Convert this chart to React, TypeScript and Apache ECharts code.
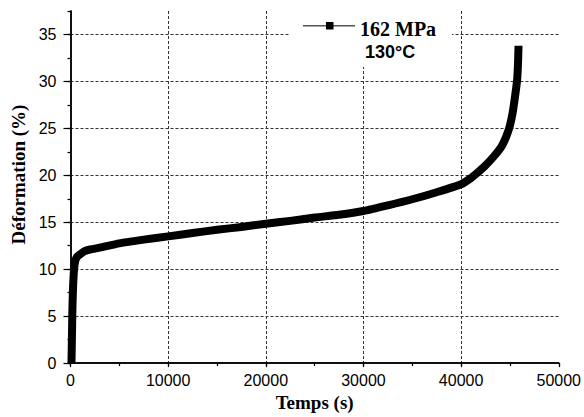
import React, { useEffect, useRef } from "react";
import * as echarts from "echarts";

// Creep test: time (s) vs strain (%)
const timeS = [
  100, 150, 200, 260, 330, 420, 550, 750, 1000, 1400, 2000, 3000, 5000, 7500,
  10000, 12500, 15000, 17500, 20000, 22500, 25000, 27500, 30000, 32500, 35000,
  37500, 40000, 41000, 41700, 42400, 43300, 44100, 44650, 45000, 45300, 45550,
  45740, 45830, 45880,
];
const strain = [
  0, 3, 6, 8, 9.5, 10.5, 11.1, 11.4, 11.6, 11.9, 12.1, 12.3, 12.75, 13.15,
  13.5, 13.85, 14.2, 14.5, 14.85, 15.15, 15.5, 15.8, 16.2, 16.8, 17.45, 18.2,
  19.05, 19.7, 20.3, 20.95, 21.95, 23.0, 24.2, 25.3, 26.8, 28.6, 30.2, 32.0, 33.8,
];
const yMajorTicks = [0, 5, 10, 15, 20, 25, 30, 35];
const seriesName = "162 MPa";
const tempLabel = "130°C";
const xName = "Temps (s)";
const yName = "Déformation (%)";

export default function App() {
  const ref = useRef<HTMLDivElement>(null);
  useEffect(() => {
    const chart = echarts.init(ref.current!, null, { renderer: "svg" });
    const axisColor = "#000";
    const gridLine = { color: "#333", width: 1, type: [3, 2] as any };
    const labelFont = { fontFamily: "Liberation Sans, Arial, sans-serif", fontSize: 16, color: "#000" };
    const axisLineStyle = { show: true, onZero: false, lineStyle: { color: axisColor, width: 1.5 } };
    chart.setOption({
      animation: false,
      backgroundColor: "#fff",
      grid: { left: 70.5, right: 22.5, top: 11, bottom: 44.3, containLabel: false },
      xAxis: [
        {
          type: "value",
          min: 0,
          max: 50000,
          interval: 10000,
          name: xName,
          nameLocation: "middle",
          nameGap: 25,
          nameTextStyle: { fontFamily: "Liberation Serif, Times New Roman, serif", fontWeight: "bold", fontSize: 19, color: "#000" },
          axisLine: axisLineStyle,
          axisTick: { show: true, length: 4, lineStyle: { color: axisColor, width: 1.2 } },
          splitLine: { show: true, showMinLine: false, showMaxLine: false, lineStyle: gridLine },
          axisLabel: { ...labelFont, margin: 9, formatter: (v: number) => String(v) },
        },
        {
          type: "value",
          position: "bottom",
          min: 0,
          max: 50000,
          interval: 5000,
          axisLine: axisLineStyle,
          axisTick: { show: true, length: 3, lineStyle: { color: axisColor, width: 1.2 } },
          splitLine: { show: false },
          axisLabel: { show: false },
        },
      ],
      yAxis: [
        {
          type: "value",
          min: 0,
          max: 37.5,
          interval: 5,
          axisLine: axisLineStyle,
          axisTick: { show: true, length: 7, customValues: yMajorTicks, lineStyle: { color: axisColor, width: 1.2 } },
          splitLine: { show: true, showMinLine: false, lineStyle: gridLine },
          axisLabel: { ...labelFont, margin: 14, customValues: yMajorTicks },
        },
        {
          type: "value",
          position: "left",
          min: 0,
          max: 37.5,
          interval: 2.5,
          axisLine: axisLineStyle,
          axisTick: { show: true, length: 3, lineStyle: { color: axisColor, width: 1.2 } },
          splitLine: { show: false },
          axisLabel: { show: false },
        },
      ],
      series: [
        {
          name: seriesName,
          type: "line",
          xAxisIndex: 0,
          yAxisIndex: 0,
          data: timeS.map((t, i) => [t, strain[i]]),
          showSymbol: false,
          symbol: "none",
          smooth: 0.2,
          lineStyle: { color: "#000", width: 8, cap: "butt", join: "round" },
          z: 3,
        },
      ],
      graphic: [
        { type: "rect", shape: { x: 290, y: 0, width: 162, height: 67 }, style: { fill: "#fff" }, z: 50 },
        { type: "line", shape: { x1: 303, y1: 25.7, x2: 355, y2: 25.7 }, style: { stroke: "#555", lineWidth: 1.5 }, z: 51 },
        { type: "rect", shape: { x: 326, y: 22, width: 7.5, height: 7.5 }, style: { fill: "#000" }, z: 52 },
        {
          type: "text",
          x: 360,
          y: 28.5,
          style: { text: seriesName, font: "bold 20px 'Liberation Serif', 'Times New Roman', serif", fill: "#000", align: "left", verticalAlign: "middle" },
          z: 52,
        },
        {
          type: "text",
          x: 365,
          y: 52,
          style: { text: tempLabel, font: "bold 18px 'Liberation Sans', Arial, sans-serif", fill: "#000", align: "left", verticalAlign: "middle" },
          z: 52,
        },
        {
          type: "text",
          x: 18.5,
          y: 174.5,
          rotation: Math.PI / 2,
          style: { text: yName, font: "bold 19px 'Liberation Serif', 'Times New Roman', serif", fill: "#000", align: "center", verticalAlign: "middle" },
          z: 52,
        },
      ],
    });
    return () => chart.dispose();
  }, []);
  return <div ref={ref} style={{ position: "fixed", left: 0, top: 0, width: 584, height: 417 }} />;
}
